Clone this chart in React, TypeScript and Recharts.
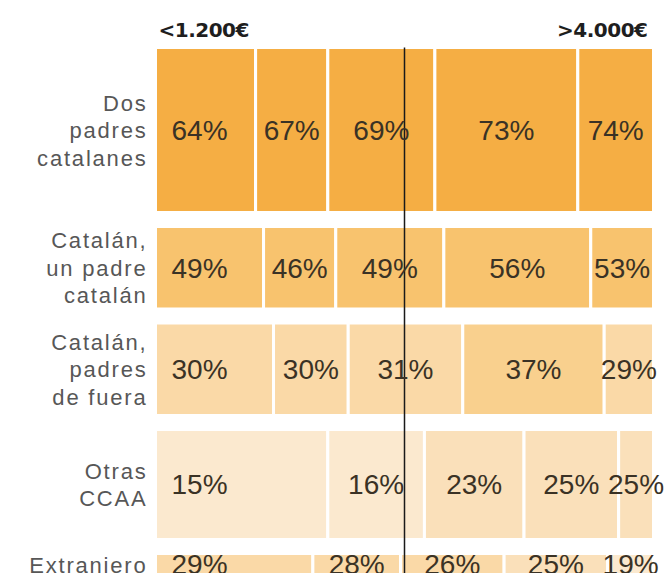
import React from "react";
import { ComposedChart, XAxis, YAxis, ReferenceArea, ReferenceLine } from "recharts";

// origin groups (rows), top to bottom
const rowLabels = [
  "Dos\npadres\ncatalanes",
  "Catalán,\nun padre\ncatalán",
  "Catalán,\npadres\nde fuera",
  "Otras\nCCAA",
  "Extranjero",
];
// relative size of each group -> row height
const rowSizes = [33, 16.5, 18.5, 22, 4.4];
// share of each income bracket inside a group -> cell widths (sum 100)
const incomeShares = [
  [20.1, 14.5, 21.5, 28.7, 15.2],
  [21.7, 14.5, 21.7, 29.5, 12.6],
  [23.7, 15.0, 23.0, 28.4, 9.9],
  [34.6, 19.4, 20.0, 19.0, 7.0],
  [31.6, 17.6, 20.8, 20.8, 9.2],
];
// percentage shown in each cell
const pctValues = [
  [64, 67, 69, 73, 74],
  [49, 46, 49, 56, 53],
  [30, 30, 31, 37, 29],
  [15, 16, 23, 25, 25],
  [29, 28, 26, 25, 19],
];
const incomeTicks = ["<1.200€", ">4.000€"];
const medianShare = 50;

const ROW_GAP = 2.8;
const Y_MAX = 105.1;
const FONT = '"Liberation Sans", Arial, sans-serif';

function cellColor(v: number) {
  if (v >= 60) return "#f5ae44";
  if (v >= 45) return "#f8c36e";
  if (v >= 35) return "#f9d08e";
  if (v >= 26) return "#fad9a7";
  if (v >= 20) return "#fae0ba";
  return "#fbe9cf";
}

// row top/bottom in y units
const rowBounds: { y1: number; y2: number }[] = [];
let acc = 0;
rowSizes.forEach((s) => {
  rowBounds.push({ y1: acc, y2: acc + s });
  acc += s + ROW_GAP;
});
const rowCenters = rowBounds.map((r) => (r.y1 + r.y2) / 2);

const cells = incomeShares.flatMap((shares, i) => {
  let x = 0;
  return shares.map((w, j) => {
    const cell = { row: i, col: j, x1: x, x2: x + w, value: pctValues[i][j] };
    x += w;
    return cell;
  });
});

// two corner points so both number axes span their full domain
const frame = [
  { x: 0, y: 0 },
  { x: 100, y: Y_MAX },
];

function RowTick(props: any) {
  const { x, y, index } = props;
  const lines = rowLabels[index].split("\n");
  const lh = 27.5;
  return (
    <text
      x={x}
      y={y}
      textAnchor="end"
      fill="#575757"
      fontSize={22}
      fontFamily={FONT}
      letterSpacing={1.8}
    >
      {lines.map((l, k) => (
        <tspan key={k} x={x} dy={k === 0 ? -((lines.length - 1) / 2) * lh + 8 : lh}>
          {l}
        </tspan>
      ))}
    </text>
  );
}

function IncomeTick(props: any) {
  const { x, y, index } = props;
  const first = index === 0;
  return (
    <text
      x={first ? x + 3 : x - 6}
      y={y - 3}
      textAnchor={first ? "start" : "end"}
      fill="#1e1e1e"
      fontSize={20}
      fontWeight="bold"
      fontFamily='"DejaVu Sans", sans-serif'
      letterSpacing={-0.5}
    >
      {incomeTicks[index]}
    </text>
  );
}

export default function App() {
  return (
    <div style={{ position: "absolute", left: 0, top: 0, background: "#fff" }}>
      <ComposedChart
        width={666}
        height={573}
        data={frame}
        margin={{ top: 0, right: 12.5, bottom: 0, left: 0 }}
      >
        <XAxis
          dataKey="x"
          orientation="top"
          type="number"
          domain={[0, 100]}
          ticks={[0, 100]}
          height={47.5}
          axisLine={false}
          tickLine={false}
          tick={<IncomeTick />}
        />
        <YAxis
          dataKey="y"
          type="number"
          domain={[0, Y_MAX]}
          reversed
          ticks={rowCenters}
          width={155.5}
          axisLine={false}
          tickLine={false}
          tick={<RowTick />}
          interval={0}
        />
        {cells.map((c) => (
          <ReferenceArea
            key={`${c.row}-${c.col}`}
            x1={c.x1}
            x2={c.x2}
            y1={rowBounds[c.row].y1}
            y2={rowBounds[c.row].y2}
            fill={cellColor(c.value)}
            fillOpacity={1}
            stroke="#ffffff"
            strokeWidth={3}
            ifOverflow="visible"
            label={{
              value: `${c.value}%`,
              position: c.col === 0 ? "insideLeft" : "center",
              offset: 16,
              fill: "#3a3225",
              fontSize: 28,
              fontFamily: FONT,
            }}
          />
        ))}
        <ReferenceLine x={medianShare} stroke="#1a1a1a" strokeWidth={1.5} />
      </ComposedChart>
    </div>
  );
}
